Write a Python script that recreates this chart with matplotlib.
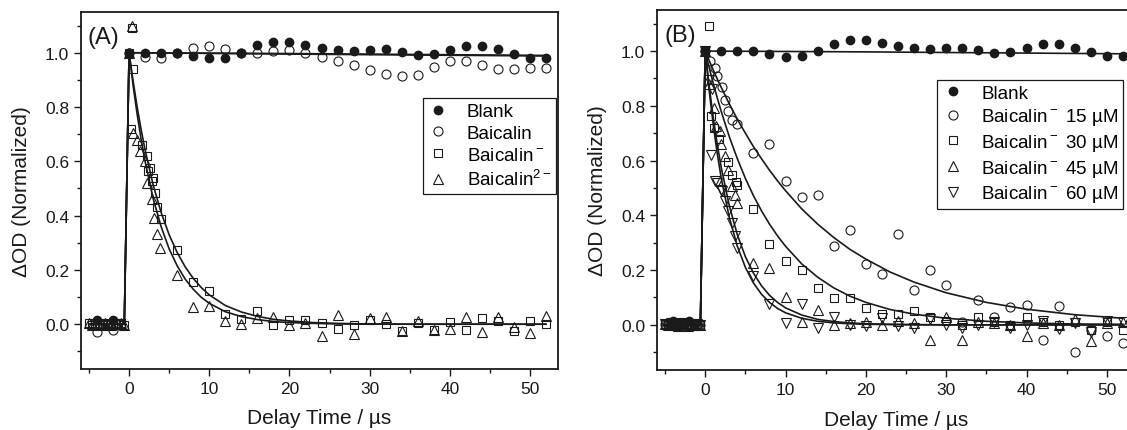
import numpy as np
import matplotlib
matplotlib.use("Agg")
import matplotlib.pyplot as plt
from matplotlib.ticker import MultipleLocator, FormatStrFormatter

plt.rcParams['font.family'] = ['Liberation Sans', 'DejaVu Sans']

# --- Data ---
# pre-trigger baseline points (dense, overlapping markers)
t_pre = [-5.0, -4.6, -4.2, -3.8, -3.4, -3.0, -2.6, -2.2, -1.8, -1.4, -1.0, -0.6]
y_pre = [0.004, -0.002, 0.006, 0.0, -0.004, 0.005, 0.002, -0.003, 0.004, 0.0, 0.003, -0.002]

# blank / neutral baicalin, 2 us steps
t_slow = [-4, -2, 0, 2, 4, 6, 8, 10, 12, 14, 16, 18, 20, 22, 24, 26, 28, 30,
          32, 34, 36, 38, 40, 42, 44, 46, 48, 50, 52]
blank = [0.015, 0.015, 1.0, 1.0, 1.0, 1.0, 0.988, 0.98, 0.982, 1.0, 1.027, 1.04,
         1.04, 1.03, 1.019, 1.011, 1.008, 1.011, 1.012, 1.003, 0.992, 0.997, 1.011,
         1.025, 1.026, 1.013, 0.995, 0.981, 0.981]
baicalin = [-0.027, -0.02, 1.0, 0.983, 0.98, 0.998, 1.016, 1.024, 1.014, 1.0, 0.998,
            1.005, 1.01, 0.998, 0.983, 0.968, 0.953, 0.938, 0.922, 0.914, 0.919,
            0.947, 0.971, 0.971, 0.953, 0.941, 0.941, 0.944, 0.944]

# panel A: Baicalin- (squares)
tA_mono = [0, 0.2, 0.3, 0.5, 1.6, 2.2, 2.4, 2.6, 2.8, 3.0, 3.2, 3.5, 4.0, 6, 8, 10, 12,
           14, 16, 18, 20, 22, 24, 26, 28, 30, 32, 34, 36, 38, 40, 42, 44, 46, 48, 50, 52]
yA_mono = [1.0, 0.72, 1.09, 0.94, 0.66, 0.62, 0.565, 0.577, 0.527, 0.54, 0.482, 0.433,
           0.386, 0.273, 0.156, 0.123, 0.037, 0.02, 0.047, -0.003, 0.015, 0.015, 0.004,
           -0.017, -0.003, 0.015, 0.001, -0.025, 0.004, -0.02, 0.007, -0.02, 0.022,
           0.01, -0.025, 0.013, 0.001]
# panel A: Baicalin2- (triangles)
tA_di = [0, 0.3, 0.5, 1.0, 1.4, 2.0, 2.2, 2.8, 3.1, 3.5, 3.9, 6, 8, 10, 12, 14, 16, 18,
         20, 22, 24, 26, 28, 30, 32, 34, 36, 38, 40, 42, 44, 46, 48, 50, 52]
yA_di = [1.0, 1.10, 0.705, 0.68, 0.638, 0.60, 0.52, 0.46, 0.393, 0.331, 0.282, 0.18,
         0.064, 0.067, 0.012, 0.0, 0.022, 0.025, -0.003, 0.004, -0.044, 0.034, -0.035,
         0.022, 0.026, -0.025, 0.01, -0.02, -0.018, 0.026, -0.027, 0.026, -0.009,
         -0.032, 0.03]

# panel B: Baicalin- at four concentrations
tB_15 = [0, 0.6, 1.2, 1.5, 2.1, 2.5, 2.8, 3.3, 3.9, 6, 8, 10, 12, 14, 16, 18, 20, 22,
         24, 26, 28, 30, 32, 34, 36, 38, 40, 42, 44, 46, 48, 50, 52]
yB_15 = [1.0, 0.963, 0.939, 0.908, 0.869, 0.823, 0.781, 0.75, 0.732, 0.628, 0.662,
         0.526, 0.467, 0.475, 0.289, 0.348, 0.222, 0.184, 0.33, 0.128, 0.201, 0.146,
         0.01, 0.09, 0.03, 0.066, 0.072, -0.056, 0.068, -0.1, -0.02, -0.042, -0.068]
tB_30 = [0, 0.5, 0.7, 1.1, 1.75, 2.9, 3.3, 3.8, 4.0, 6, 8, 10, 12, 14, 16, 18, 20, 22,
         24, 26, 28, 30, 32, 34, 36, 38, 40, 42, 44, 46, 48, 50, 52]
yB_30 = [1.0, 1.09, 0.762, 0.72, 0.677, 0.593, 0.549, 0.52, 0.512, 0.423, 0.295, 0.232,
         0.201, 0.134, 0.098, 0.098, 0.061, 0.04, 0.04, 0.05, 0.028, 0.015, 0.0, 0.03,
         0.01, 0.0, 0.028, 0.01, 0.0, 0.01, -0.02, 0.01, -0.02]
tB_45 = [0, 0.5, 1.1, 1.3, 1.8, 2.0, 2.5, 2.9, 3.3, 3.7, 3.9, 6, 8, 10, 12, 14, 16, 18,
         20, 22, 24, 26, 28, 30, 32, 34, 36, 38, 40, 42, 44, 46, 48, 50, 52]
yB_45 = [1.0, 0.878, 0.793, 0.726, 0.707, 0.659, 0.616, 0.567, 0.506, 0.476, 0.446,
         0.225, 0.207, 0.1, 0.012, 0.055, 0.0, 0.005, 0.01, 0.0, 0.015, 0.005, -0.056,
         0.03, -0.056, 0.01, 0.005, 0.0, -0.04, 0.005, 0.0, 0.02, -0.06, 0.005, 0.01]
tB_60 = [0, 0.45, 0.7, 0.85, 1.2, 1.5, 2.0, 2.1, 2.5, 2.8, 3.3, 3.7, 4.0, 6, 8, 10, 12,
         14, 16, 18, 20, 22, 24, 26, 28, 30, 32, 34, 36, 38, 40, 42, 44, 46, 48, 50, 52]
yB_60 = [1.0, 0.896, 0.622, 0.86, 0.524, 0.518, 0.494, 0.488, 0.451, 0.414, 0.372,
         0.323, 0.28, 0.18, 0.077, 0.007, 0.077, -0.01, 0.029, 0.0, -0.005, 0.024,
         -0.005, -0.01, 0.02, 0.0, -0.01, 0.0, 0.01, -0.01, 0.0, 0.015, -0.015, 0.005,
         -0.025, 0.015, 0.01]

# fitted curves, read at these delay times
fit_t = [-5, -0.6, 0, 0.5, 1, 1.5, 2, 3, 4, 5, 6, 7, 8, 9, 10, 12, 14, 16, 18, 20, 23,
         26, 30, 35, 40, 46, 52]
fitA_mono = [0, 0, 1.0, 0.895, 0.801, 0.717, 0.641, 0.513, 0.411, 0.329, 0.264, 0.211,
             0.169, 0.135, 0.108, 0.069, 0.045, 0.029, 0.018, 0.012, 0.006, 0.003,
             0.001, 0, 0, 0, 0]
fitA_di = [0, 0, 1.0, 0.880, 0.774, 0.681, 0.599, 0.463, 0.359, 0.277, 0.215, 0.166,
           0.129, 0.099, 0.077, 0.046, 0.028, 0.017, 0.010, 0.006, 0.003, 0.001, 0, 0,
           0, 0, 0]
fitB_15 = [0, 0, 1.0, 0.965, 0.931, 0.898, 0.867, 0.807, 0.751, 0.700, 0.651, 0.607,
           0.565, 0.526, 0.490, 0.424, 0.368, 0.319, 0.276, 0.240, 0.193, 0.156, 0.117,
           0.082, 0.057, 0.037, 0.024]
fitB_30 = [0, 0, 1.0, 0.939, 0.882, 0.829, 0.779, 0.687, 0.607, 0.535, 0.472, 0.417,
           0.368, 0.325, 0.287, 0.223, 0.174, 0.135, 0.105, 0.082, 0.056, 0.039, 0.024,
           0.013, 0.007, 0.003, 0.002]
fitB_45 = [0, 0, 1.0, 0.870, 0.757, 0.659, 0.574, 0.435, 0.329, 0.249, 0.189, 0.143,
           0.108, 0.082, 0.062, 0.036, 0.020, 0.012, 0.007, 0.004, 0.002, 0.001, 0, 0,
           0, 0, 0]
fitB_60 = [0, 0, 1.0, 0.855, 0.732, 0.626, 0.535, 0.392, 0.287, 0.210, 0.153, 0.112,
           0.082, 0.060, 0.044, 0.024, 0.013, 0.007, 0.004, 0.002, 0.001, 0, 0, 0, 0,
           0, 0]
flat_t = [-5, -0.6, 0, 20, 52]
fit_blank = [0, 0, 1.0, 0.997, 0.99]
fit_baicalin = [0, 0, 1.0, 0.995, 0.988]

labels_A = ['Blank', 'Baicalin', 'Baicalin$^{\\rm -}$', 'Baicalin$^{\\rm 2-}$']
labels_B = ['Blank', 'Baicalin$^{\\rm -}$ 15 \u00b5M', 'Baicalin$^{\\rm -}$ 30 \u00b5M',
            'Baicalin$^{\\rm -}$ 45 \u00b5M', 'Baicalin$^{\\rm -}$ 60 \u00b5M']
plt.rcParams['mathtext.fontset'] = 'custom'
plt.rcParams['mathtext.rm'] = 'Liberation Sans'

# --- Style ---
INK = '#1a1a1a'
LINE_W = 1.2
open_kw = dict(ls='none', mfc='none', mec=INK, mew=0.8)


def style_axes(ax):
    ax.set_xlim(-6, 53.5)
    ax.set_ylim(-0.165, 1.15)
    ax.xaxis.set_major_locator(MultipleLocator(10))
    ax.xaxis.set_minor_locator(MultipleLocator(5))
    ax.yaxis.set_major_locator(MultipleLocator(0.2))
    ax.yaxis.set_minor_locator(MultipleLocator(0.1))
    ax.yaxis.set_major_formatter(FormatStrFormatter('%.1f'))
    ax.tick_params(which='both', direction='out', top=False, right=False,
                   width=1.0, colors=INK, labelsize=12.5)
    ax.tick_params(which='major', length=5)
    ax.tick_params(which='minor', length=3)
    for s in ax.spines.values():
        s.set_linewidth(1.3)
        s.set_color(INK)
    ax.set_xlabel('Delay Time / \u00b5s', fontsize=15, color=INK)
    ax.set_ylabel('\u0394OD (Normalized)', fontsize=15, color=INK)
    ax.xaxis.set_label_coords(0.5, -0.11)
    ax.yaxis.set_label_coords(-0.105, 0.5)


fig = plt.figure(figsize=(11.27, 4.31), dpi=100)
axA = fig.add_axes([81 / 1127, 1 - 370 / 431, 477 / 1127, 357 / 431])
axB = fig.add_axes([657 / 1127, 1 - 371 / 431, 478 / 1127, 360 / 431])

# --- Panel A ---
for ft in [fit_blank, fit_baicalin]:
    axA.plot(flat_t, ft, color=INK, lw=LINE_W)
for ft in [fitA_mono, fitA_di]:
    axA.plot(fit_t, ft, color=INK, lw=LINE_W)

axA.plot(t_slow, blank, 'o', ls='none', color=INK, ms=6, label=labels_A[0])
axA.plot(t_slow, baicalin, 'o', ms=6.5, label=labels_A[1], **open_kw)
axA.plot(t_pre + tA_mono, y_pre + yA_mono, 's', ms=5.8, label=labels_A[2], **open_kw)
axA.plot(t_pre + tA_di, y_pre + yA_di, '^', ms=7, label=labels_A[3], **open_kw)

style_axes(axA)
legA = axA.legend(loc='upper left', bbox_to_anchor=(0.716, 0.758), fontsize=13.5,
                  frameon=True, fancybox=False, framealpha=1, edgecolor=INK,
                  borderaxespad=0, handlelength=1.2, handletextpad=0.9,
                  labelspacing=0.25, borderpad=0.25)
legA.get_frame().set_linewidth(0.9)
axA.text(0.013, 0.96, '(A)', transform=axA.transAxes, fontsize=17, va='top',
         ha='left', color=INK)

# --- Panel B ---
axB.plot(flat_t, fit_blank, color=INK, lw=LINE_W)
for ft in [fitB_15, fitB_30, fitB_45, fitB_60]:
    axB.plot(fit_t, ft, color=INK, lw=LINE_W)

axB.plot(t_slow, blank, 'o', ls='none', color=INK, ms=6, label=labels_B[0])
axB.plot(t_pre + tB_15, y_pre + yB_15, 'o', ms=6.5, label=labels_B[1], **open_kw)
axB.plot(t_pre + tB_30, y_pre + yB_30, 's', ms=5.8, label=labels_B[2], **open_kw)
axB.plot(t_pre + tB_45, y_pre + yB_45, '^', ms=7, label=labels_B[3], **open_kw)
axB.plot(t_pre + tB_60, y_pre + yB_60, 'v', ms=7, label=labels_B[4], **open_kw)

style_axes(axB)
legB = axB.legend(loc='upper left', bbox_to_anchor=(0.586, 0.806), fontsize=13.5,
                  frameon=True, fancybox=False, framealpha=1, edgecolor=INK,
                  borderaxespad=0, handlelength=1.2, handletextpad=0.9,
                  labelspacing=0.25, borderpad=0.25)
legB.get_frame().set_linewidth(0.9)
axB.text(0.015, 0.96, '(B)', transform=axB.transAxes, fontsize=17, va='top',
         ha='left', color=INK)

fig.savefig('out.png', dpi=100)
